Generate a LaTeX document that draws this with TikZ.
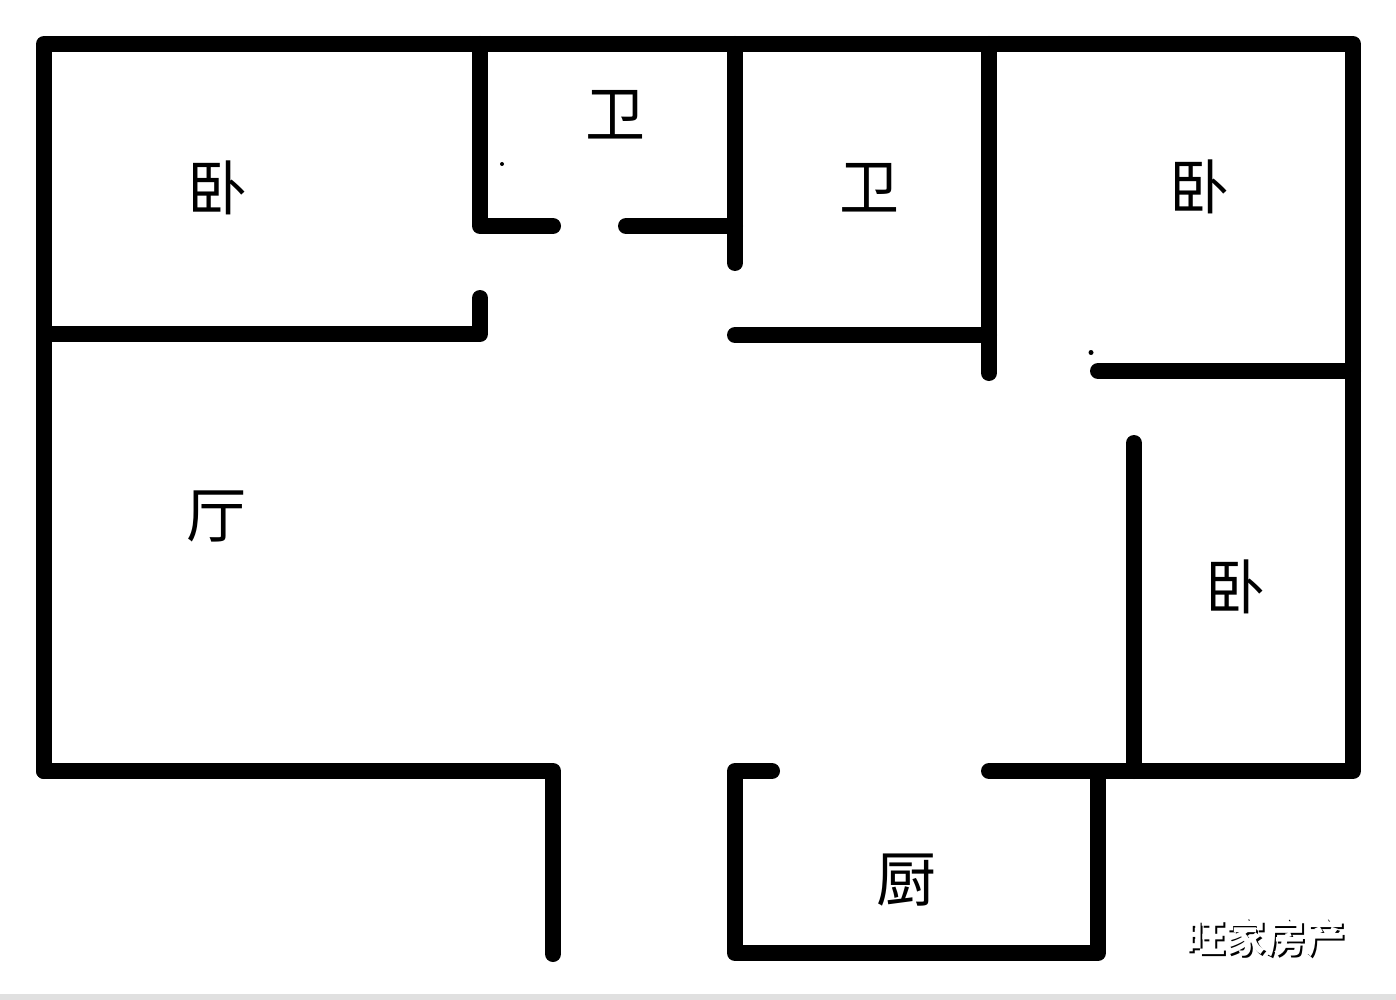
\documentclass[tikz,border=0pt]{standalone}
\usepackage{fontspec}
\newfontfamily\cjk{Noto Sans CJK SC}
\tikzset{wall/.style={line width=16pt,draw=black,line cap=round,line join=round},
room/.style={font=\cjk\fontsize{60}{60}\selectfont,inner sep=0pt},
brand/.style={font=\cjk\bfseries\fontsize{40}{40}\selectfont,inner sep=0pt}}
\begin{document}
\begin{tikzpicture}[x=1pt,y=-1pt]
\useasboundingbox (0,0) rectangle (1396,1000);
\fill[white] (0,0) rectangle (1396,1000);
\fill[black!12] (0,994) rectangle (1396,1000);
\draw[wall] (44,771) -- (44,44) -- (1353,44) -- (1353,771) -- (989,771);
\draw[wall] (44,771) -- (553,771) -- (553,954);
\draw[wall] (772,771) -- (735,771) -- (735,953) -- (1098,953) -- (1098,771);
\draw[wall] (480,44) -- (480,226) -- (553,226);
\draw[wall] (626,226) -- (735,226);
\draw[wall] (735,44) -- (735,263);
\draw[wall] (989,44) -- (989,373);
\draw[wall] (735,335) -- (989,335);
\draw[wall] (44,334) -- (480,334) -- (480,298);
\draw[wall] (1098,371) -- (1353,371);
\draw[wall] (1134,443) -- (1134,771);
\fill[black] (502,164) circle[radius=2pt];
\fill[black] (1091,352.5) circle[radius=2.5pt];
\node[room] (a) at (217,188) {卧};
\node[room] (b) at (615,115) {卫};
\node[room] (c) at (869,188) {卫};
\node[room] (d) at (1199,187) {卧};
\node[room] (e) at (1235,587) {卧};
\node[room] (f) at (216,516) {厅};
\node[room] (g) at (906,880) {厨};
\node[brand,text=black] (ws) at (1267,939) {旺家房产};
\node[brand,text=white] (w) at (1265,937) {旺家房产};
\end{tikzpicture}
\end{document}
